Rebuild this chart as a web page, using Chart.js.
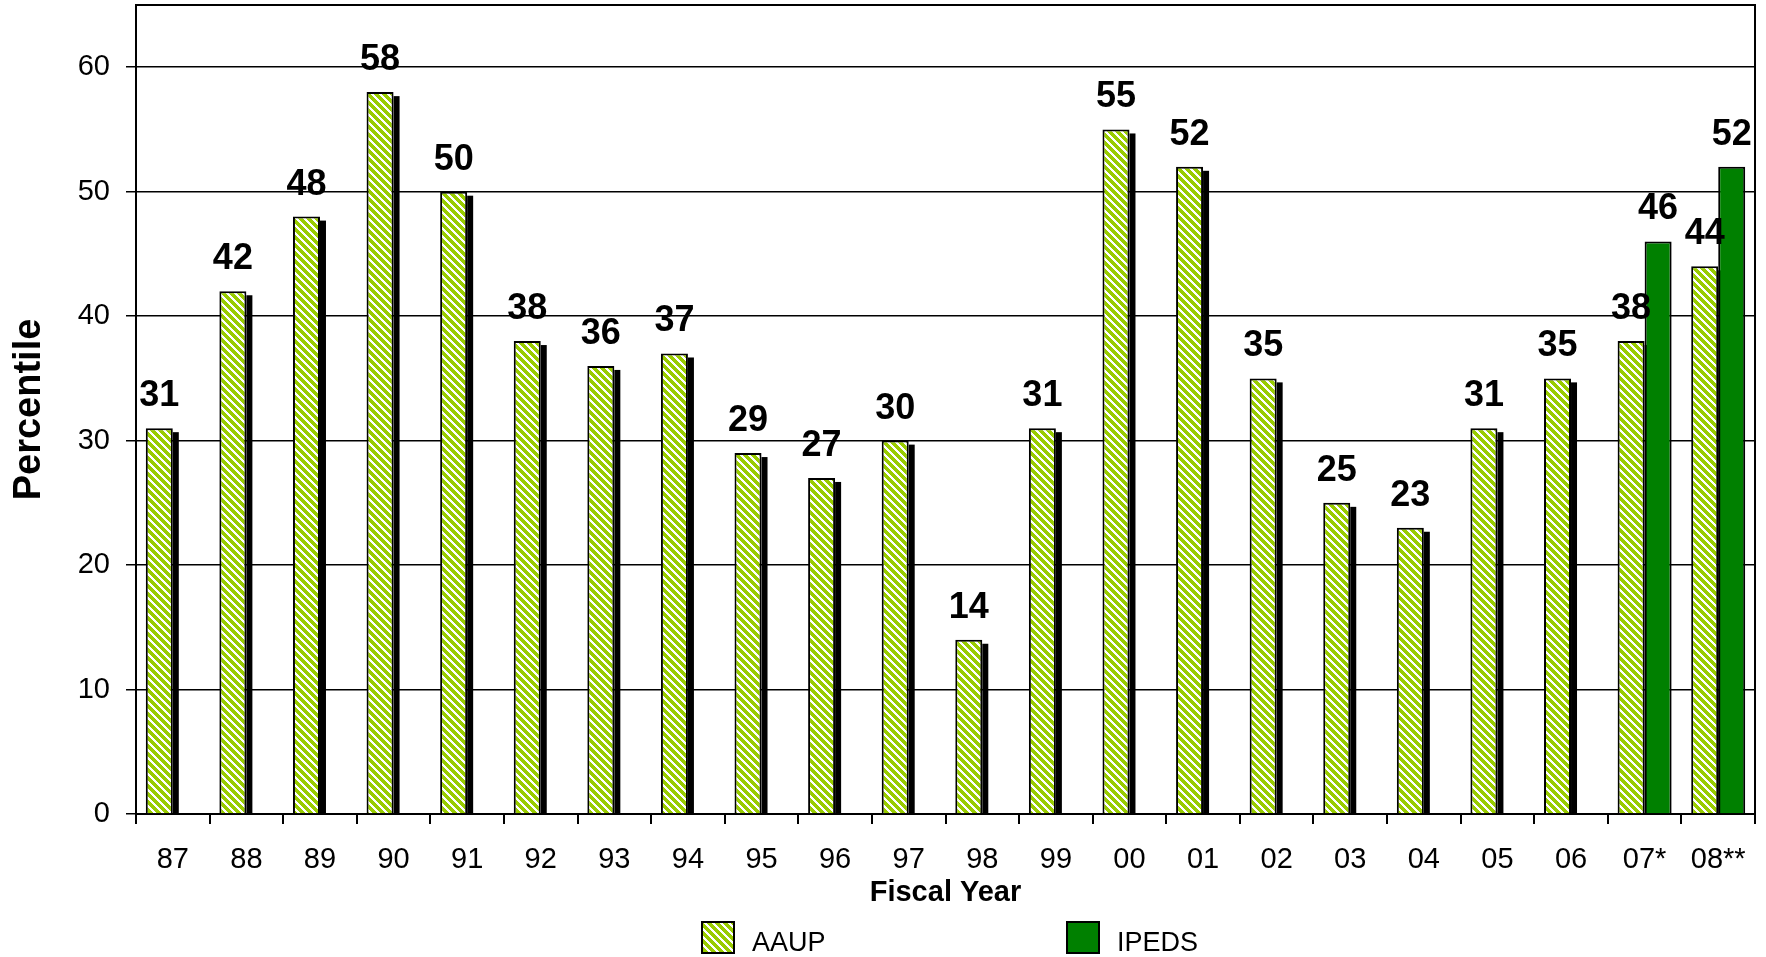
<!DOCTYPE html>
<html>
<head>
<meta charset="utf-8">
<title>Percentile by Fiscal Year</title>
<script src="https://cdn.jsdelivr.net/npm/chart.js@4/dist/chart.umd.min.js"></script>
<style>
  body { margin: 0; background: #fff; }
  canvas { display: block; }
</style>
</head>
<body>
<canvas id="myChart" width="1766" height="957"></canvas>
<script>
let years = ["87", "88", "89", "90", "91", "92", "93", "94", "95", "96", "97",
  "98", "99", "00", "01", "02", "03", "04", "05", "06", "07*", "08**"];
let aaupValues = [31, 42, 48, 58, 50, 38, 36, 37, 29, 27, 30,
  14, 31, 55, 52, 35, 25, 23, 31, 35, 38, 44];
let ipedsValues = [null, null, null, null, null, null, null, null, null, null, null,
  null, null, null, null, null, null, null, null, null, 46, 52];
let yTicks = [0, 10, 20, 30, 40, 50, 60];

const FONT = "'Liberation Sans', Arial, sans-serif";

// yellow-green / white diagonal hatch for the AAUP bars
makeHatch = () => {
  let c = document.createElement("canvas");
  c.width = 8;
  c.height = 8;
  let g = c.getContext("2d");
  g.fillStyle = "#ffffff";
  g.fillRect(0, 0, 8, 8);
  g.fillStyle = "#99cc00";
  for (let y = 0; y < 8; y++) {
    for (let x = 0; x < 8; x++) {
      if (((x - y + 8) % 8) < 5) g.fillRect(x, y, 1, 1);
    }
  }
  return document.getElementById("myChart").getContext("2d").createPattern(c, "repeat");
};
let hatch = makeHatch();

// black drop shadow on the right side of each AAUP bar
let barShadow = {
  id: "barShadow",
  beforeDatasetsDraw(chart) {
    let ctx = chart.ctx;
    ctx.save();
    ctx.fillStyle = "#000";
    chart.getDatasetMeta(0).data.forEach((bar) => {
      let p = bar.getProps(["x", "y", "base", "width"], true);
      ctx.fillRect(p.x + p.width / 2, p.y + 4, 6, p.base - p.y - 4);
    });
    ctx.restore();
  },
};

// value printed above every bar
let valueLabels = {
  id: "valueLabels",
  afterDatasetsDraw(chart) {
    let ctx = chart.ctx;
    ctx.save();
    ctx.font = "bold 36px " + FONT;
    ctx.fillStyle = "#000";
    ctx.textAlign = "center";
    ctx.textBaseline = "alphabetic";
    chart.data.datasets.forEach((ds, i) => {
      chart.getDatasetMeta(i).data.forEach((bar, j) => {
        if (ds.data[j] == null) return;
        let p = bar.getProps(["x", "y"], true);
        ctx.fillText(ds.data[j], p.x, p.y - 22);
      });
    });
    ctx.restore();
  },
};

// top and right frame lines plus the legend under the axis title
let frameAndLegend = {
  id: "frameAndLegend",
  afterDraw(chart) {
    let ctx = chart.ctx;
    let a = chart.chartArea;
    ctx.save();
    ctx.strokeStyle = "#000";
    ctx.lineWidth = 2;
    ctx.beginPath();
    ctx.moveTo(a.left, a.top);
    ctx.lineTo(a.right, a.top);
    ctx.lineTo(a.right, a.bottom);
    ctx.stroke();

    let items = [
      { text: "AAUP", fill: hatch, x: 702 },
      { text: "IPEDS", fill: "#008000", x: 1067 },
    ];
    ctx.font = "27px " + FONT;
    ctx.textBaseline = "alphabetic";
    items.forEach((it) => {
      ctx.fillStyle = it.fill;
      ctx.fillRect(it.x, 922, 32, 31);
      ctx.lineWidth = 2;
      ctx.strokeStyle = "#000";
      ctx.strokeRect(it.x, 922, 32, 31);
      ctx.fillStyle = "#000";
      ctx.fillText(it.text, it.x + 50, 951);
    });
    ctx.restore();
  },
};

let ctx = document.getElementById("myChart").getContext("2d");
let chart = new Chart(ctx, {
  type: "bar",
  data: {
    labels: years,
    datasets: [
      {
        label: "AAUP",
        data: aaupValues,
        backgroundColor: hatch,
        borderColor: "#000",
        borderWidth: 2,
      },
      {
        label: "IPEDS",
        data: ipedsValues,
        backgroundColor: "#008000",
        borderColor: "#000",
        borderWidth: 2,
      },
    ],
  },
  plugins: [barShadow, valueLabels, frameAndLegend],
  options: {
    responsive: false,
    animation: false,
    layout: { padding: { top: 5, right: 11, bottom: 40, left: 0 } },
    datasets: {
      bar: { categoryPercentage: 0.734, barPercentage: 1.0 },
    },
    plugins: {
      legend: { display: false },
      tooltip: { enabled: false },
    },
    scales: {
      x: {
        offset: true,
        grid: {
          offset: true,
          drawOnChartArea: false,
          tickLength: 10,
          color: "#000",
          lineWidth: 2,
        },
        border: { color: "#000", width: 2 },
        ticks: {
          color: "#000",
          font: { family: FONT, size: 29 },
          padding: 19,
          maxRotation: 0,
        },
        title: {
          display: true,
          text: "Fiscal Year",
          color: "#000",
          font: { family: FONT, size: 29, weight: "bold" },
          padding: { top: 0, bottom: 7 },
        },
        afterFit: (scale) => {
          scale.height = 103;
          scale.paddingLeft = 0;
          scale.paddingRight = 0;
        },
      },
      y: {
        min: 0,
        max: 65,
        afterBuildTicks: (scale) => {
          scale.ticks = yTicks.map((v) => ({ value: v }));
        },
        grid: {
          color: "#000",
          lineWidth: 1.5,
          tickLength: 10,
        },
        border: { color: "#000", width: 2 },
        ticks: {
          color: "#000",
          font: { family: FONT, size: 29 },
          padding: 16,
        },
        title: {
          display: true,
          text: "Percentile",
          color: "#000",
          font: { family: FONT, size: 38, weight: "bold" },
          padding: { top: 7, bottom: 0 },
        },
        afterFit: (scale) => {
          scale.width = 136;
          scale.paddingTop = 0;
          scale.paddingBottom = 0;
        },
      },
    },
  },
});
</script>
</body>
</html>
